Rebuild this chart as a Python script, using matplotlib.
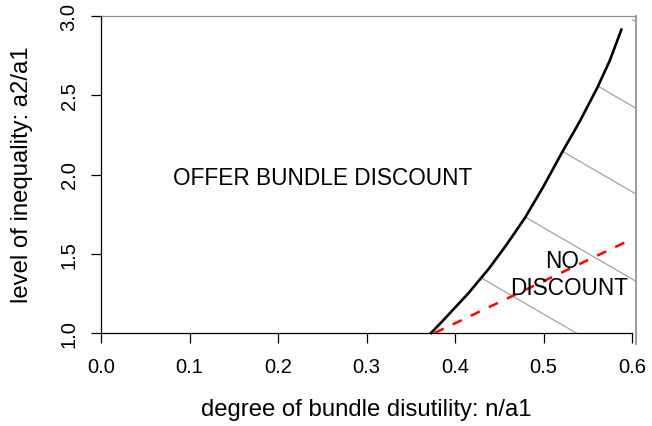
import numpy as np
import matplotlib
matplotlib.use("Agg")
import matplotlib.pyplot as plt
from matplotlib.patches import Polygon

plt.rcParams['font.family'] = ['Liberation Sans', 'DejaVu Sans']

# boundary curve (black): bundle disutility vs inequality
curve_n = [0.373, 0.385, 0.400, 0.415, 0.438, 0.458, 0.479, 0.500,
           0.521, 0.541, 0.561, 0.575, 0.588]
curve_a = [1.000, 1.070, 1.160, 1.250, 1.404, 1.555, 1.726, 1.925,
           2.140, 2.335, 2.550, 2.720, 2.914]

# red dashed line
dash_n = [0.377, 0.596]
dash_a = [1.000, 1.582]

# hatching of the no-discount region: level at right edge, common slope
hatch_right = 0.6045
hatch_levels = [0.781, 1.326, 1.877, 2.418, 2.964]
hatch_slope = -3.24

xticks = [0.0, 0.1, 0.2, 0.3, 0.4, 0.5, 0.6]
yticks = [1.0, 1.5, 2.0, 2.5, 3.0]

W, H = 652, 427
fig = plt.figure(figsize=(W / 100, H / 100), dpi=100)
ax = fig.add_axes([101 / W, 1 - 334 / H, (632 - 101) / W, (334 - 17) / H])
ax.set_xlim(0, 0.6)
ax.set_ylim(1, 3)

for side in ['top', 'right']:
    ax.spines[side].set_visible(False)
for side in ['left', 'bottom']:
    ax.spines[side].set_linewidth(0.9)

ax.set_xticks(xticks)
ax.set_xticklabels([f"{v:.1f}" for v in xticks])
ax.set_yticks(yticks)
ax.set_yticklabels([f"{v:.1f}" for v in yticks], rotation=90, va='center')
ax.tick_params(direction='out', length=7.2, width=0.9, labelsize=14.5)
ax.tick_params(axis='x', pad=10)
ax.tick_params(axis='y', pad=9)

# hatched region with gray border
poly_x = curve_n + [hatch_right, hatch_right]
poly_y = curve_a + [3.0, 1.0]
region = Polygon(np.column_stack([poly_x, poly_y]), closed=True,
                 facecolor='none', edgecolor='none')
ax.add_patch(region)
for c in hatch_levels:
    xs = np.array([0.3, hatch_right])
    ys = c + hatch_slope * (xs - hatch_right)
    ln, = ax.plot(xs, ys, color='#9a9a9a', lw=0.8)
    ln.set_clip_path(region)
    ln.set_clip_box(None)

ax.plot([0, hatch_right], [3.0, 3.0], color='#8c8c8c', lw=0.9, clip_on=False)
ax.plot([hatch_right, hatch_right], [3.0, 0.93], color='#8c8c8c', lw=1.2, clip_on=False)

ax.plot(curve_n, curve_a, color='black', lw=1.9, clip_on=False)
ax.plot(dash_n, dash_a, color='red', lw=1.8, linestyle=(0, (4, 4)), clip_on=False)

ax.text(0.25, 1.94, "OFFER BUNDLE DISCOUNT", ha='center', va='baseline', fontsize=16.3)
ax.text(0.5206, 1.414, "NO", ha='center', va='baseline', fontsize=16.3)
ax.text(0.5288, 1.244, "DISCOUNT", ha='center', va='baseline', fontsize=16.3)

fig.text(366 / W, 1 - 410 / H, "degree of bundle disutility: n/a1",
         ha='center', va='center', fontsize=17.2)
fig.text(22 / W, 1 - 175 / H, "level of inequality: a2/a1",
         ha='center', va='center', rotation=90, fontsize=17.2)

fig.savefig("out.png", dpi=100)
